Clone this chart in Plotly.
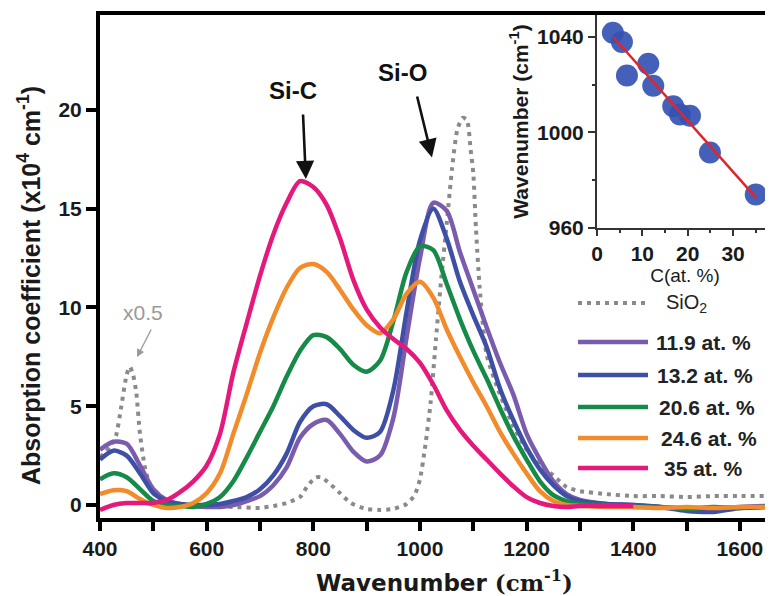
import plotly.graph_objects as go

# ---------------- data ----------------
wn = [400, 425, 450, 475, 500, 525, 550, 575, 600, 625, 650, 675, 700, 725, 750, 775,
      800, 825, 850, 875, 900, 925, 950, 975, 1000, 1025, 1050, 1075, 1100, 1125, 1150,
      1175, 1200, 1225, 1250, 1275, 1300, 1350, 1400, 1450, 1500, 1550, 1600, 1650]

c119 = [2.8, 3.2, 3.1, 2.0, 0.8, 0.25, 0.05, -0.05, -0.1, -0.1, 0.0, 0.2, 0.45, 1.0, 1.9, 3.4,
        4.1, 4.3, 3.6, 2.7, 2.2, 2.5, 4.4, 8.5, 12.5, 15.3, 14.9, 12.8, 10.9, 9.0, 7.2,
        5.6, 3.6, 2.3, 1.2, 0.55, 0.25, 0.05, 0.0, -0.1, -0.2, -0.2, -0.1, -0.05]

c132 = [2.3, 2.75, 2.5, 1.6, 0.6, 0.2, 0.05, 0.0, 0.0, 0.05, 0.2, 0.4, 0.8, 1.5, 2.6, 4.2,
        5.0, 5.1, 4.5, 3.8, 3.4, 3.7, 5.8, 9.8, 13.4, 15.0, 13.5, 11.3, 9.6, 8.0, 5.9,
        4.3, 2.9, 1.8, 1.0, 0.45, 0.2, 0.05, 0.0, -0.1, -0.3, -0.35, -0.15, -0.1]

c206 = [1.3, 1.6, 1.4, 0.8, 0.2, 0.0, -0.05, -0.1, 0.05, 0.4, 1.2, 2.4, 3.7, 5.0, 6.5, 7.8,
        8.6, 8.5, 7.9, 7.1, 6.75, 7.3, 9.3, 11.8, 13.1, 12.9, 11.2, 9.4, 7.8, 6.4, 4.9,
        3.5, 2.3, 1.2, 0.5, 0.2, 0.05, 0.0, -0.1, -0.1, -0.2, -0.1, -0.15, -0.1]

c246 = [0.55, 0.75, 0.7, 0.3, 0.0, -0.15, -0.1, 0.1, 0.6, 1.6, 3.6, 5.6, 7.7, 9.5, 11.0, 12.0,
        12.2, 11.8, 10.9, 9.9, 9.1, 8.7, 9.4, 10.7, 11.3, 10.5, 8.9, 7.5, 6.2, 5.0, 3.7,
        2.6, 1.6, 0.7, 0.2, 0.0, -0.05, -0.1, -0.1, -0.15, -0.1, -0.15, -0.1, -0.1]

c350 = [-0.25, 0.0, 0.1, 0.1, 0.1, 0.25, 0.65, 1.2, 2.0, 3.6, 6.7, 9.2, 11.6, 13.7, 15.3, 16.4,
        16.1, 15.2, 13.5, 11.4, 9.9, 9.0, 8.4, 7.9, 7.2, 6.1, 4.8, 3.8, 3.0, 2.3, 1.6,
        0.95, 0.4, 0.1, -0.05, -0.1, -0.05, -0.05, -0.05, None, None, None, None, None]

sio2_wn = [400, 420, 430, 440, 450, 456, 462, 468, 475, 485, 500, 525, 550, 600, 650, 700,
           725, 750, 775, 790, 805, 815, 830, 850, 870, 900, 925, 950, 975, 990, 1000,
           1010, 1020, 1030, 1040, 1050, 1060, 1070, 1080, 1088, 1095, 1100, 1105, 1112,
           1125, 1150, 1175, 1200, 1225, 1250, 1275, 1300, 1350, 1400, 1450, 1500, 1550,
           1600, 1650]
sio2 = [2.4, 3.0, 3.5, 5.0, 6.6, 7.0, 6.6, 5.7, 3.6, 1.8, 0.6, 0.1, 0.0, -0.05, -0.1, -0.15,
        -0.05, 0.1, 0.4, 1.0, 1.4, 1.4, 1.1, 0.6, 0.1, -0.2, -0.25, -0.2, 0.05, 0.5, 1.3,
        3.0, 5.2, 8.4, 11.5, 14.2, 17.0, 19.0, 19.6, 19.5, 18.0, 16.8, 14.0, 11.0,
        7.6, 5.6, 4.0, 2.8, 2.0, 1.5, 0.9, 0.7, 0.55, 0.45, 0.45, 0.4, 0.45, 0.45, 0.45]

series_names = ["11.9 at. %", "13.2 at. %", "20.6 at. %", "24.6 at. %", "35 at. %"]
series_vals = [c119, c132, c206, c246, c350]
series_colors = ["#7a5cae", "#3e4fa6", "#168a47", "#f28b2a", "#e5197c"]

# inset: Si-O peak position vs carbon content
c_at = [3.5, 5.5, 6.6, 11.3, 12.4, 16.8, 18.3, 20.5, 24.9, 35.0]
peak_wn = [1041.8, 1037.9, 1023.9, 1028.8, 1019.6, 1011.0, 1007.5, 1007.0, 991.6, 974.0]
fit_c = [3.6, 35.1]
fit_wn = [1040.0, 972.6]

x_ticks = [400, 600, 800, 1000, 1200, 1400, 1600]
y_ticks = [0, 5, 10, 15, 20]
inset_x_ticks = [0, 10, 20, 30]
inset_y_ticks = [960, 1000, 1040]

# ---------------- layout helpers ----------------
OFF = 8                      # page body margin of the browser
W, H = 773 - OFF, 596 - OFF
L, R, T, B = 100 - OFF, 0, 15 - OFF, 78
PW, PH = W - L - R, H - T - B


def px2paper(px, py):
    """reference-picture pixel -> paper coordinates"""
    return (px - OFF - L) / PW, (H - B - (py - OFF)) / PH


def bold(vals):
    return ["<b>%s</b>" % v for v in vals]


FONT = "Liberation Sans, Arial, sans-serif"
TICKFONT = dict(size=21, family=FONT, weight="bold", color="#1a1a1a")
fig = go.Figure()

fig.add_trace(go.Scatter(x=sio2_wn, y=sio2, mode="lines", name="SiO2",
                         line=dict(color="#8a8a8a", width=4, dash="4px,5px",
                                   shape="spline", smoothing=0.6),
                         showlegend=False))
for name, vals, col in zip(series_names, series_vals, series_colors):
    fig.add_trace(go.Scatter(x=wn, y=vals, mode="lines", name=name,
                             line=dict(color=col, width=4.5, shape="spline", smoothing=0.8),
                             showlegend=False))

# inset
fig.add_trace(go.Scatter(x=c_at, y=peak_wn, mode="markers", xaxis="x2", yaxis="y2",
                         marker=dict(size=22, color="#3552b3", opacity=0.92,
                                     line=dict(width=0)),
                         showlegend=False))
fig.add_trace(go.Scatter(x=fit_c, y=fit_wn, mode="lines", xaxis="x2", yaxis="y2",
                         line=dict(color="#e0252b", width=2.5), showlegend=False))

ix0, _ = px2paper(597, 0)
_, iy0 = px2paper(0, 228)

fig.update_layout(
    width=W, height=H, margin=dict(l=L, r=R, t=T, b=B, pad=0, autoexpand=False),
    paper_bgcolor="white", plot_bgcolor="white",
    font=dict(family=FONT, color="#1a1a1a"),
    xaxis=dict(range=[400, 1662], tickvals=x_ticks, ticktext=bold(x_ticks),
               ticks="outside", ticklen=9, tickwidth=4,
               tickcolor="black", showline=True, linewidth=4, linecolor="black",
               mirror=True, showgrid=False, zeroline=False, tickfont=TICKFONT,
               minor=dict(dtick=100, tick0=400, ticks="outside", ticklen=9, tickwidth=4,
                          tickcolor="black", showgrid=False)),
    yaxis=dict(range=[-0.66, 24.81], tickvals=y_ticks, ticktext=bold(y_ticks),
               ticks="outside", ticklen=10,
               tickwidth=4, tickcolor="black", showline=True, linewidth=4,
               linecolor="black", showgrid=False, zeroline=False, tickfont=TICKFONT),
    xaxis2=dict(domain=[ix0, 1.0], anchor="y2", range=[0, 38.8], tickvals=inset_x_ticks,
                ticktext=bold(inset_x_ticks),
                ticks="outside", ticklen=6, tickwidth=1.5, tickcolor="#333",
                showline=True, linewidth=2, linecolor="#333", showgrid=False,
                zeroline=False, tickfont=TICKFONT,
                minor=dict(dtick=5, tick0=0, ticks="outside", ticklen=3, tickwidth=1.5,
                           tickcolor="#333", showgrid=False),
                title=dict(text="C(at. %)", font=dict(size=19, family=FONT), standoff=2)),
    yaxis2=dict(domain=[iy0, 1.0], anchor="x2", range=[960, 1049.2],
                tickvals=inset_y_ticks, ticktext=bold(inset_y_ticks),
                ticks="outside", ticklen=7, tickwidth=1.5,
                tickcolor="#333", showline=True, linewidth=2, linecolor="#333",
                showgrid=False, zeroline=False, tickfont=TICKFONT,
                minor=dict(dtick=20, tick0=960, ticks="outside", ticklen=3, tickwidth=1.5,
                           tickcolor="#333", showgrid=False),
                title=dict(text="<b>Wavenumber (cm<sup>-1</sup>)</b>",
                           font=dict(size=21, family=FONT), standoff=3)),
)

# ---------------- annotations ----------------
ann = []
# main axis titles (placed as in the reference)
tx, ty = px2paper(444, 581)
ann.append(dict(x=tx, y=ty, xref="paper", yref="paper", xanchor="center", yanchor="middle",
                text="<b>Wavenumber <span style='font-family:DejaVu Serif'>(cm<sup>-1</sup>)</span></b>",
                showarrow=False, font=dict(size=23, family="DejaVu Sans", color="#1a1a1a")))
tx, ty = px2paper(29, 286)
ann.append(dict(x=tx, y=ty, xref="paper", yref="paper", xanchor="center", yanchor="middle",
                textangle=-90,
                text="<b>Absorption coefficient (x10<sup>4</sup> cm<sup>-1</sup>)</b>",
                showarrow=False, font=dict(size=25, family=FONT, color="#1a1a1a")))

ann.append(dict(x=762, y=21.0, xref="x", yref="y", text="<b>Si-C</b>", showarrow=False,
                font=dict(size=24, family=FONT, color="#111")))
ann.append(dict(x=968, y=21.9, xref="x", yref="y", text="<b>Si-O</b>", showarrow=False,
                font=dict(size=24, family=FONT, color="#111")))
ann.append(dict(x=786, y=16.5, ax=780.6, ay=19.85, xref="x", yref="y", axref="x", ayref="y",
                text="", showarrow=True, arrowhead=2, arrowsize=1.4, arrowwidth=2.6,
                arrowcolor="#111"))
ann.append(dict(x=1022.5, y=17.6, ax=994, ay=20.76, xref="x", yref="y", axref="x", ayref="y",
                text="", showarrow=True, arrowhead=2, arrowsize=1.4, arrowwidth=2.6,
                arrowcolor="#111"))
ann.append(dict(x=480.6, y=9.77, xref="x", yref="y", text="x0.5", showarrow=False,
                font=dict(size=21, family=FONT, color="#999")))
ann.append(dict(x=469.4, y=7.49, ax=497.5, ay=8.96, xref="x", yref="y", axref="x", ayref="y",
                text="", showarrow=True, arrowhead=2, arrowsize=1.2, arrowwidth=1.3,
                arrowcolor="#999"))

# ---------------- manual legend ----------------
shapes = []
leg_rows = [303, 342, 375, 407, 438, 468]
leg_x0, leg_x1 = 578, 648
x0p, _ = px2paper(leg_x0, 0)
x1p, _ = px2paper(leg_x1, 0)
_, yp = px2paper(0, leg_rows[0])
shapes.append(dict(type="line", xref="paper", yref="paper", x0=x0p, x1=x1p, y0=yp, y1=yp,
                   line=dict(color="#8a8a8a", width=4, dash="4px,5px")))
tx, _ = px2paper(664, 0)
ann.append(dict(x=tx, y=yp, xref="paper", yref="paper", xanchor="left", yanchor="middle",
                text="SiO<sub>2</sub>", showarrow=False,
                font=dict(size=20, family=FONT, color="#222")))
text_x = [654, 655, 657, 659, 662]
for row, name, col, txp in zip(leg_rows[1:], series_names, series_colors, text_x):
    _, yp = px2paper(0, row)
    shapes.append(dict(type="line", xref="paper", yref="paper", x0=x0p, x1=x1p, y0=yp, y1=yp,
                       line=dict(color=col, width=4.5)))
    tx, _ = px2paper(txp, 0)
    ann.append(dict(x=tx, y=yp, xref="paper", yref="paper", xanchor="left", yanchor="middle",
                    text="<b>" + name + "</b>", showarrow=False,
                    font=dict(size=21, family=FONT, color="#222")))

fig.update_layout(annotations=ann, shapes=shapes)
fig.write_html("out.html")
